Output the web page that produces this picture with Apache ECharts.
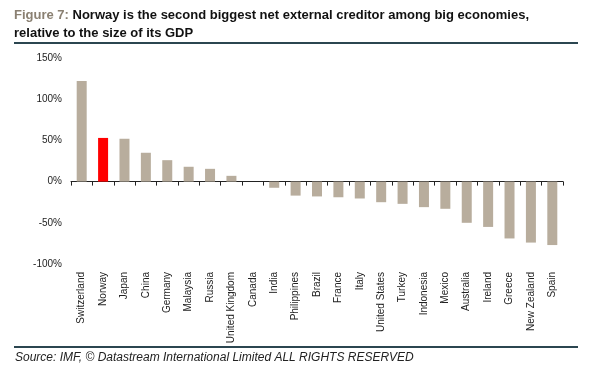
<!DOCTYPE html>
<html><head><meta charset="utf-8">
<script src="https://cdn.jsdelivr.net/npm/echarts@6/dist/echarts.min.js"></script>
<style>html,body{margin:0;padding:0;background:#fff}#c{width:600px;height:381px}</style>
</head><body><div id="c"></div>
<script>
var categories = ["Switzerland","Norway","Japan","China","Germany","Malaysia","Russia","United Kingdom","Canada","India","Philippines","Brazil","France","Italy","United States","Turkey","Indonesia","Mexico","Australia","Ireland","Greece","New Zealand","Spain"];
var values = [122,53,52,35,26,18,15.5,7,0,-7.5,-17,-18,-19,-20.5,-25,-27,-31,-33,-50,-55,-69,-74,-77];
var highlight = "Norway";
var yTicks = [-100,-50,0,50,100,150];

var chart = echarts.init(document.getElementById('c'), null, {renderer:'canvas'});
var font = '"Liberation Sans", Arial, sans-serif';
chart.setOption({
  animation:false,
  title:{
    left:14, top:6, padding:0,
    text:'{g|Figure 7: }{b|Norway is the second biggest net external creditor among big economies,}\n{b|relative to the size of its GDP}',
    textStyle:{
      fontFamily:font, lineHeight:18,
      rich:{
        g:{color:'#8a8072', fontSize:13, fontWeight:'bold', fontFamily:font, lineHeight:18},
        b:{color:'#111', fontSize:13, fontWeight:'bold', fontFamily:font, lineHeight:18}
      }
    }
  },
  graphic:[
    {type:'line', shape:{x1:14,y1:43,x2:578,y2:43}, style:{stroke:'#2b4650', lineWidth:2}},
    {type:'line', shape:{x1:14,y1:347,x2:578,y2:347}, style:{stroke:'#2b4650', lineWidth:2}},
    {type:'text', left:15, top:352, style:{text:'Source: IMF, \u00A9 Datastream International Limited ALL RIGHTS RESERVED', fontFamily:font, fontSize:12, fontStyle:'italic', fill:'#222'}}
  ],
  grid:{left:71, right:37, top:58, bottom:117, containLabel:false, outerBoundsMode:'none'},
  xAxis:{
    type:'category', data:categories,
    axisLine:{onZero:true, lineStyle:{color:'#222', width:1}},
    axisTick:{show:true, length:4, lineStyle:{color:'#222'}},
    axisLabel:{rotate:90, margin:8, fontSize:10, color:'#222', fontFamily:font, interval:0},
    splitLine:{show:false}
  },
  yAxis:{
    type:'value', min:-100, max:150, interval:50,
    axisLine:{show:false}, axisTick:{show:false}, splitLine:{show:false},
    axisLabel:{formatter:function(v){return yTicks.indexOf(v)>=0 ? v+'%' : '';}, fontSize:10, color:'#222', fontFamily:font, margin:9}
  },
  series:[{
    type:'bar', barWidth:10,
    data:values.map(function(v,i){return {value:v, itemStyle:{color: categories[i]===highlight ? '#ff0000' : '#b8ad9d'}};})
  }]
});
</script></body></html>
